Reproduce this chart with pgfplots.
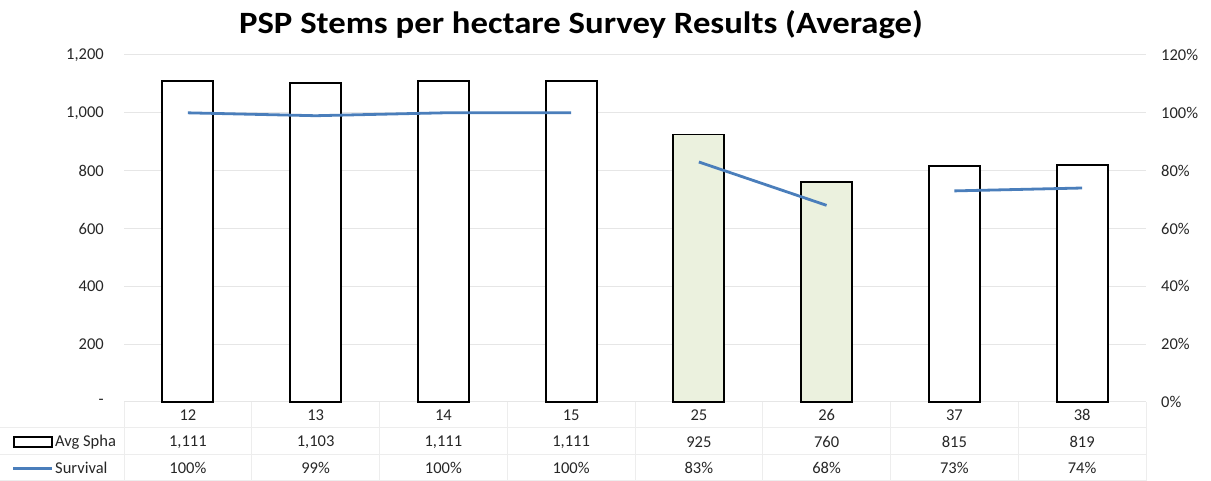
\documentclass[border=0pt]{standalone}
\usepackage{pgfplots}
\pgfplotsset{compat=1.18}
\usepackage{pgfplotstable}
\usepackage{fontspec}
\setmainfont{Carlito}
\definecolor{linecol}{HTML}{4A7EBB}
\definecolor{greenfill}{HTML}{EBF1DE}
\definecolor{gridc}{HTML}{E6E6E6}
\definecolor{tabc}{HTML}{EDEDED}
\definecolor{txt}{HTML}{262626}

\pgfplotstableread{
x spha
0 1111
1 1103
2 1111
3 1111
6 815
7 819
}\whitebars
\pgfplotstableread{
x spha
4 925
5 760
}\greenbars
\pgfplotstableread{
x surv
0 100
1 99
2 100
3 100
3.5 nan
4 83
5 68
5.5 nan
6 73
7 74
}\survival

\begin{document}
\begin{tikzpicture}[x=1pt,y=1pt]
\path[use as bounding box] (0,0) rectangle (1211,481);

% data table grid
\begin{scope}[draw=tabc, line width=1pt]
  \foreach \k in {0,...,8} {\draw (124+127.75*\k,79) -- (124+127.75*\k,0);}
  \draw (124,79) -- (1146,79);
  \draw (0,53) -- (1146,53);
  \draw (0,26) -- (1146,26);
  \draw (0,0.5) -- (1146,0.5);
\end{scope}

\begin{axis}[
  at={(124pt,79pt)}, anchor=south west,
  scale only axis, width=1022pt, height=347pt,
  xmin=-0.5, xmax=7.5, ymin=0, ymax=1200,
  xtick=\empty,
  ytick={0,200,400,600,800,1000,1200},
  yticklabels={-,200,400,600,800,{1,000},{1,200}},
  axis y line*=left, axis x line*=bottom,
  axis line style={draw=none},
  major tick length=0pt,
  ymajorgrids, grid style={draw=gridc, line width=1pt},
  yticklabel style={font=\fontsize{16.5}{19}\selectfont, text=txt, inner sep=0pt, xshift=-20pt},
  clip=false,
]
\addplot[ybar, bar width=51pt, bar shift=0pt, draw=black, line width=1.8pt, fill=white] table[x=x,y=spha] {\whitebars};
\addplot[ybar, bar width=51pt, bar shift=0pt, draw=black, line width=1.8pt, fill=greenfill] table[x=x,y=spha] {\greenbars};
\end{axis}

\begin{axis}[
  at={(124pt,79pt)}, anchor=south west,
  scale only axis, width=1022pt, height=347pt,
  xmin=-0.5, xmax=7.5, ymin=0, ymax=120,
  xtick=\empty,
  ytick={0,20,40,60,80,100,120},
  yticklabel={\pgfmathprintnumber{\tick}\%},
  axis y line*=right, axis x line=none,
  axis line style={draw=none},
  major tick length=0pt,
  yticklabel style={font=\fontsize{16.5}{19}\selectfont, text=txt, inner sep=0pt, xshift=15pt},
  /pgf/number format/assume math mode=true,
  unbounded coords=jump,
  clip=false,
]
\addplot[draw=linecol, line width=2.8pt, mark=none] table[x=x,y=surv] {\survival};
\end{axis}

% title
\node[font=\fontsize{31}{36}\selectfont\bfseries, text=black, xscale=1.12] at (581,456) {PSP Stems per hectare Survey Results (Average)};

% data table text
\begin{scope}[font=\fontsize{16.5}{19}\selectfont, text=txt]
\foreach \i/\h/\a/\s in {0/12/{1,111}/100\%, 1/13/{1,103}/99\%, 2/14/{1,111}/100\%, 3/15/{1,111}/100\%, 4/25/925/83\%, 5/26/760/68\%, 6/37/815/73\%, 7/38/819/74\%} {
  \node at (124+127.75*\i+63.875, 66) {\h};
  \node at (124+127.75*\i+63.875, 39) {\a};
  \node at (124+127.75*\i+63.875, 13) {\s};
}
\draw[black, line width=1.6pt, fill=white] (14,44) rectangle (52,34);
\node[anchor=west, inner sep=0pt] at (55,39) {Avg Spha};
\draw[linecol, line width=2.5pt] (13,12.5) -- (52,12.5);
\node[anchor=west, inner sep=0pt] at (55,13) {Survival};
\end{scope}
\end{tikzpicture}
\end{document}
